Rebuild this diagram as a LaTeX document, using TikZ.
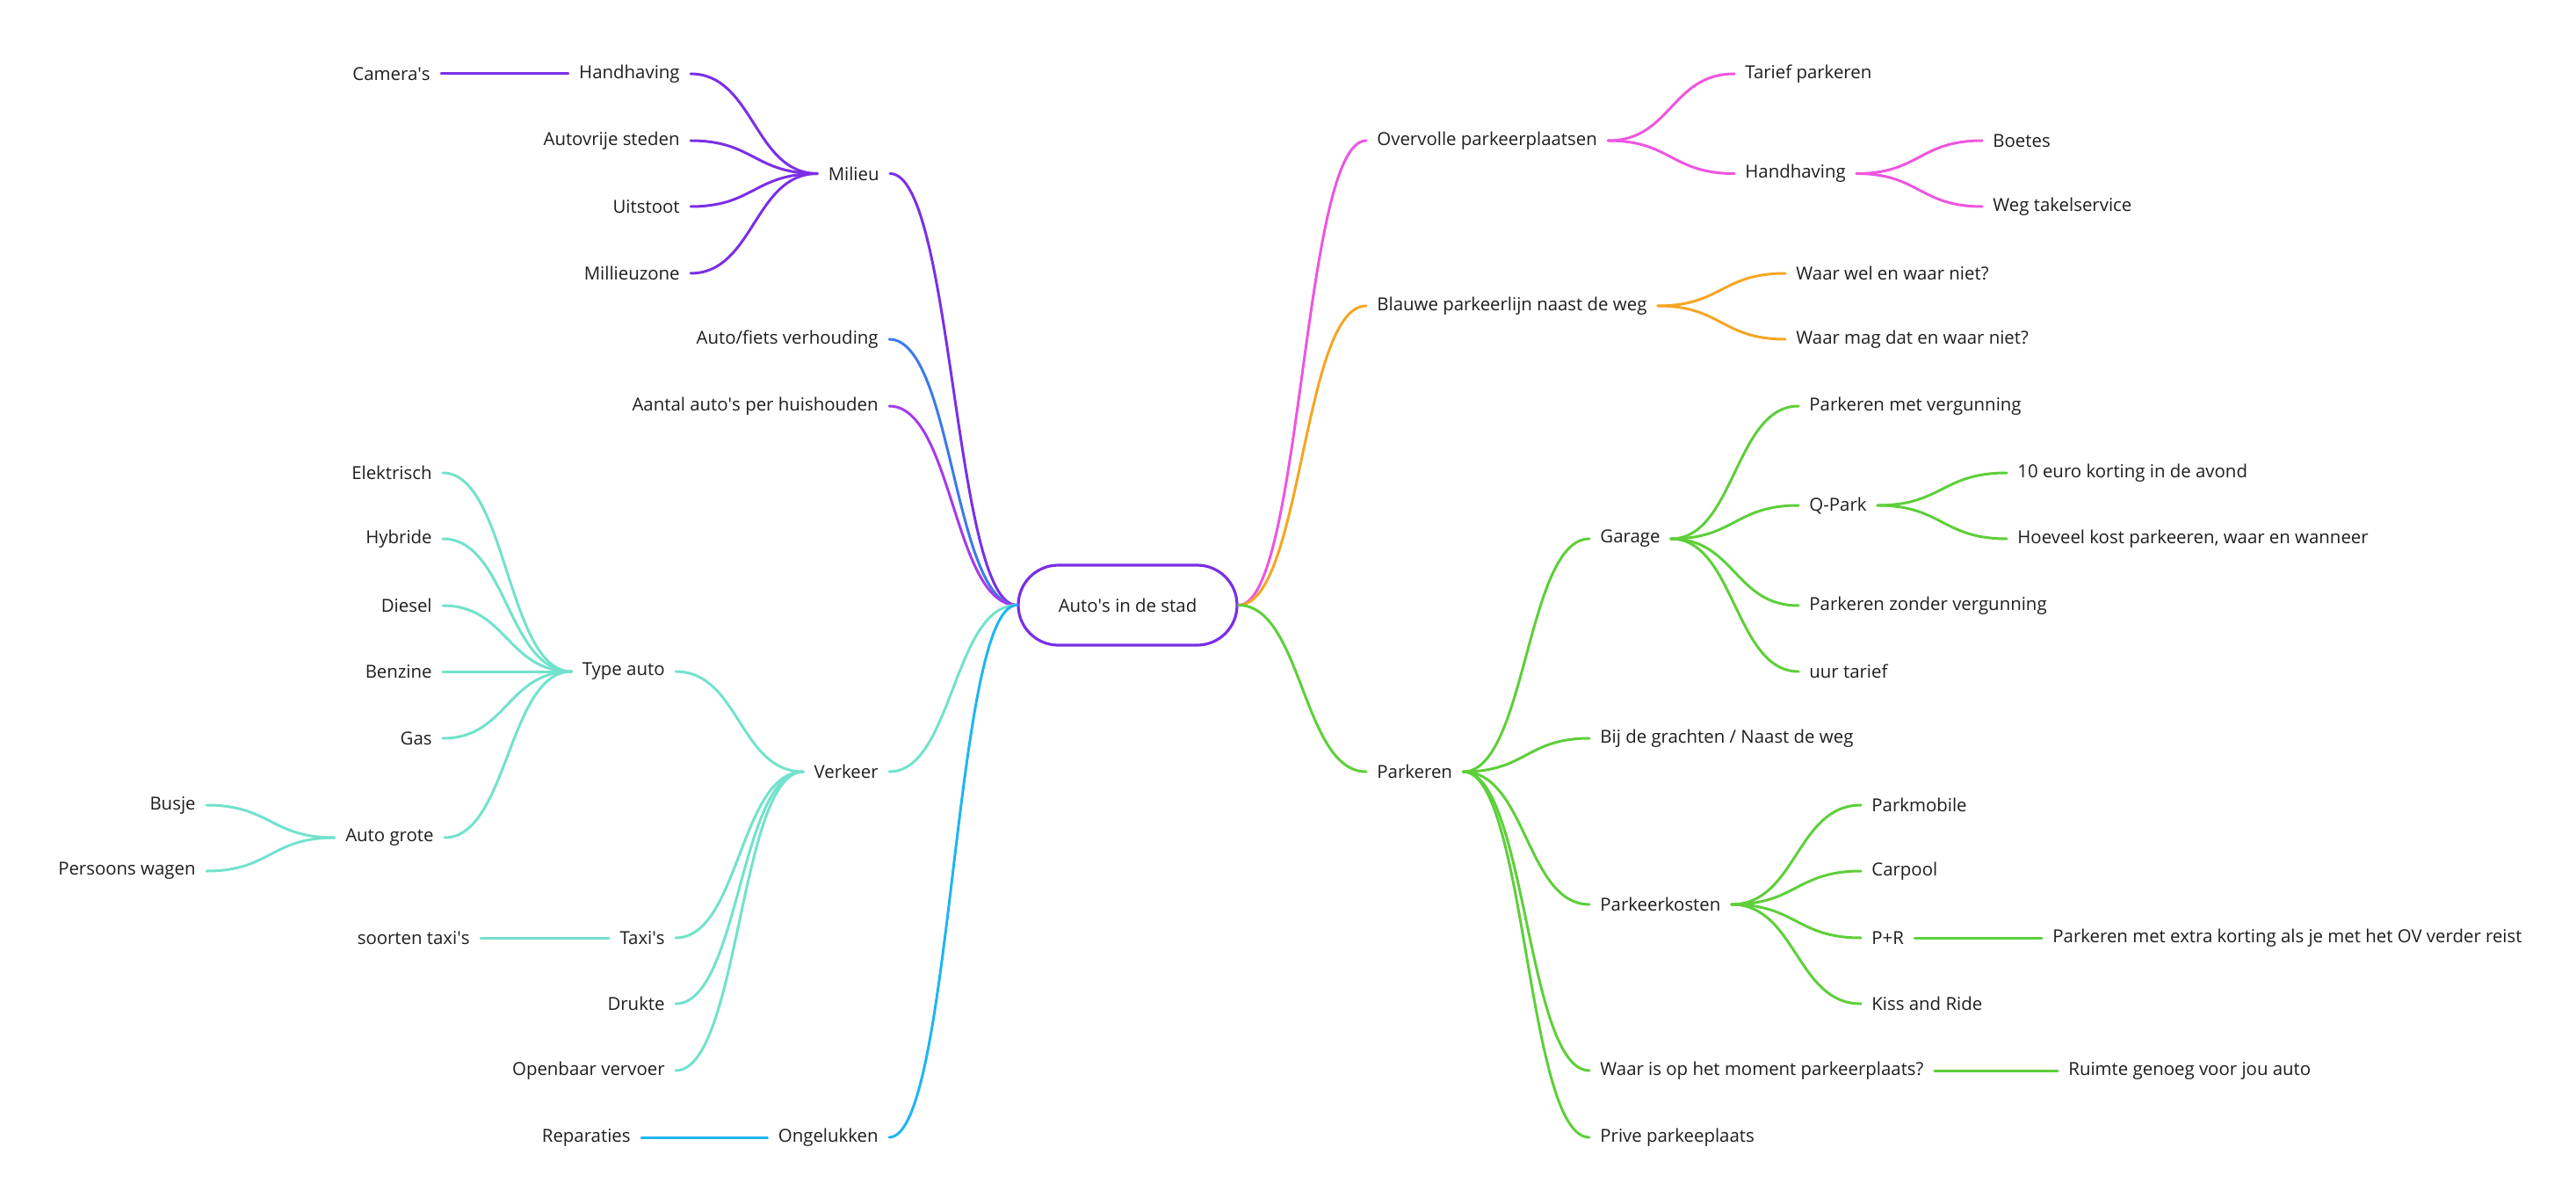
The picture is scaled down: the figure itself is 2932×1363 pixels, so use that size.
\documentclass[tikz,border=0pt]{standalone}
\usepackage{fontspec}
\setmainfont{Open Sans}
\usetikzlibrary{calc}
\definecolor{tekst}{HTML}{1E1E1E}
\definecolor{violet}{HTML}{7B2FE6}
\definecolor{blauw}{HTML}{3D7AE8}
\definecolor{lila}{HTML}{A63BE8}
\definecolor{aqua}{HTML}{72E2CB}
\definecolor{cyaan}{HTML}{1FB5F2}
\definecolor{roze}{HTML}{EE55E0}
\definecolor{oranje}{HTML}{F5A623}
\definecolor{groen}{HTML}{5ECF3A}
\newcommand{\ap}{\textquotesingle}
\tikzset{
	tak/.style={
		draw, line width=1.5pt, line cap=round,
		to path={.. controls ($(\tikztostart)!0.5!(\tikztostart -| \tikztotarget)$)
			and ($(\tikztotarget)!0.5!(\tikztotarget -| \tikztostart)$) .. (\tikztotarget)}},
	links/.style={anchor=east, inner xsep=6pt, inner ysep=2pt, text=tekst},
	rechts/.style={anchor=west, inner xsep=6pt, inner ysep=2pt, text=tekst},
	kern/.style={
		rectangle,
		rounded corners=22.75pt,
		draw=violet, line width=1.6pt,
		minimum width=124.5pt,
		minimum height=45.5pt,
		text=tekst},
}

\begin{document}
\begin{tikzpicture}
		[x=0.5pt, y=-0.5pt, font=\fontsize{10.2pt}{12pt}\selectfont]
		\useasboundingbox (0,0) rectangle (2932,1363);
		\node[kern] (kern) at (1283.5,688.5) {Auto\ap s in de stad};
		% links
		\node[links] (milieu) at (1013,197.5) {Milieu};
		\node[links] (handhL) at (786,84) {Handhaving};
		\node[links] (autovrij) at (786,160) {Autovrije steden};
		\node[links] (uitstoot) at (786,235) {Uitstoot};
		\node[links] (milzone) at (786,311) {Millieuzone};
		\node[links] (camera) at (502,84) {Camera\ap s};
		\node[links] (fiets) at (1012,386) {Auto/fiets verhouding};
		\node[links] (aantal) at (1012,462) {Aantal auto\ap s per huishouden};
		\node[links] (verkeer) at (1012,878) {Verkeer};
		\node[links] (typeauto) at (769,764) {Type auto};
		\node[links] (elektrisch) at (504,538) {Elektrisch};
		\node[links] (hybride) at (504,613) {Hybride};
		\node[links] (diesel) at (504,689) {Diesel};
		\node[links] (benzine) at (504,764) {Benzine};
		\node[links] (gas) at (504,840) {Gas};
		\node[links] (autogrote) at (506,953) {Auto grote};
		\node[links] (busje) at (235,916) {Busje};
		\node[links] (persoons) at (235,991) {Persoons wagen};
		\node[links] (taxis) at (769,1067) {Taxi\ap s};
		\node[links] (soorten) at (547,1067) {soorten taxi\ap s};
		\node[links] (drukte) at (769,1142) {Drukte};
		\node[links] (ov) at (769,1218) {Openbaar vervoer};
		\node[links] (ongelukken) at (1012,1294) {Ongelukken};
		\node[links] (reparaties) at (730,1294) {Reparaties};
		% rechts
		\node[rechts] (overvol) at (1555,160) {Overvolle parkeerplaatsen};
		\node[rechts] (tarief) at (1974,84) {Tarief parkeren};
		\node[rechts] (handhR) at (1974,197.5) {Handhaving};
		\node[rechts] (boetes) at (2256,160) {Boetes};
		\node[rechts] (takel) at (2256,235) {Weg takelservice};
		\node[rechts] (blauw) at (1555,348) {Blauwe parkeerlijn naast de weg};
		\node[rechts] (welniet) at (2032,311) {Waar wel en waar niet?};
		\node[rechts] (magdat) at (2032,386) {Waar mag dat en waar niet?};
		\node[rechts] (parkeren) at (1555,878) {Parkeren};
		\node[rechts] (garage) at (1809,613) {Garage};
		\node[rechts] (vergunning) at (2047,462) {Parkeren met vergunning};
		\node[rechts] (qpark) at (2047,575) {Q-Park};
		\node[rechts] (korting) at (2284,538) {10 euro korting in de avond};
		\node[rechts] (hoeveel) at (2284,613) {Hoeveel kost parkeeren, waar en wanneer};
		\node[rechts] (zonder) at (2047,689) {Parkeren zonder vergunning};
		\node[rechts] (uurtarief) at (2047,764) {uur tarief};
		\node[rechts] (grachten) at (1809,840) {Bij de grachten / Naast de weg};
		\node[rechts] (kosten) at (1809,1029) {Parkeerkosten};
		\node[rechts] (parkmobile) at (2118,916) {Parkmobile};
		\node[rechts] (carpool) at (2118,991) {Carpool};
		\node[rechts] (pr) at (2118,1067) {P+R};
		\node[rechts] (kiss) at (2118,1142) {Kiss and Ride};
		\node[rechts] (extra) at (2324,1067) {Parkeren met extra korting als je met het OV verder reist};
		\node[rechts] (waaris) at (1809,1218) {Waar is op het moment parkeerplaats?};
		\node[rechts] (ruimte) at (2342,1218) {Ruimte genoeg voor jou auto};
		\node[rechts] (prive) at (1809,1294) {Prive parkeeplaats};

		\draw[tak, violet] (kern.west) to (milieu.east);
		\draw[tak, blauw] (kern.west) to (fiets.east);
		\draw[tak, lila] (kern.west) to (aantal.east);
		\draw[tak, aqua] (kern.west) to (verkeer.east);
		\draw[tak, cyaan] (kern.west) to (ongelukken.east);
		\draw[tak, violet] (milieu.west) to (handhL.east);
		\draw[tak, violet] (milieu.west) to (autovrij.east);
		\draw[tak, violet] (milieu.west) to (uitstoot.east);
		\draw[tak, violet] (milieu.west) to (milzone.east);
		\draw[tak, violet] (handhL.west) to (camera.east);
		\draw[tak, aqua] (verkeer.west) to (typeauto.east);
		\draw[tak, aqua] (verkeer.west) to (taxis.east);
		\draw[tak, aqua] (verkeer.west) to (drukte.east);
		\draw[tak, aqua] (verkeer.west) to (ov.east);
		\draw[tak, aqua] (typeauto.west) to (elektrisch.east);
		\draw[tak, aqua] (typeauto.west) to (hybride.east);
		\draw[tak, aqua] (typeauto.west) to (diesel.east);
		\draw[tak, aqua] (typeauto.west) to (benzine.east);
		\draw[tak, aqua] (typeauto.west) to (gas.east);
		\draw[tak, aqua] (typeauto.west) to (autogrote.east);
		\draw[tak, aqua] (autogrote.west) to (busje.east);
		\draw[tak, aqua] (autogrote.west) to (persoons.east);
		\draw[tak, aqua] (taxis.west) to (soorten.east);
		\draw[tak, cyaan] (ongelukken.west) to (reparaties.east);

		\draw[tak, roze] (kern.east) to (overvol.west);
		\draw[tak, oranje] (kern.east) to (blauw.west);
		\draw[tak, groen] (kern.east) to (parkeren.west);
		\draw[tak, roze] (overvol.east) to (tarief.west);
		\draw[tak, roze] (overvol.east) to (handhR.west);
		\draw[tak, roze] (handhR.east) to (boetes.west);
		\draw[tak, roze] (handhR.east) to (takel.west);
		\draw[tak, oranje] (blauw.east) to (welniet.west);
		\draw[tak, oranje] (blauw.east) to (magdat.west);
		\draw[tak, groen] (parkeren.east) to (garage.west);
		\draw[tak, groen] (parkeren.east) to (grachten.west);
		\draw[tak, groen] (parkeren.east) to (kosten.west);
		\draw[tak, groen] (parkeren.east) to (waaris.west);
		\draw[tak, groen] (parkeren.east) to (prive.west);
		\draw[tak, groen] (garage.east) to (vergunning.west);
		\draw[tak, groen] (garage.east) to (qpark.west);
		\draw[tak, groen] (garage.east) to (zonder.west);
		\draw[tak, groen] (garage.east) to (uurtarief.west);
		\draw[tak, groen] (qpark.east) to (korting.west);
		\draw[tak, groen] (qpark.east) to (hoeveel.west);
		\draw[tak, groen] (kosten.east) to (parkmobile.west);
		\draw[tak, groen] (kosten.east) to (carpool.west);
		\draw[tak, groen] (kosten.east) to (pr.west);
		\draw[tak, groen] (kosten.east) to (kiss.west);
		\draw[tak, groen] (pr.east) to (extra.west);
		\draw[tak, groen] (waaris.east) to (ruimte.west);
\end{tikzpicture}
\end{document}
